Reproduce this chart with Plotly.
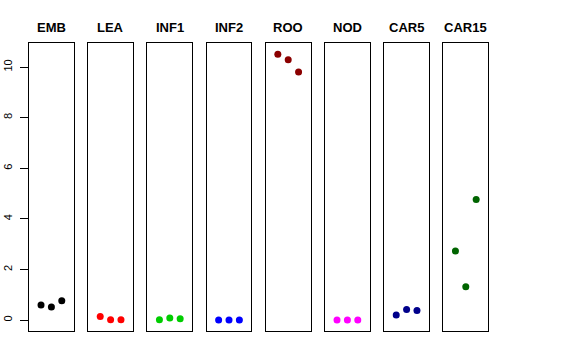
import plotly.graph_objects as go

categories = ["EMB", "LEA", "INF1", "INF2", "ROO", "NOD", "CAR5", "CAR15"]
colors = ["#000000", "#FF0000", "#00CD00", "#0000FF", "#8B0000", "#FF00FF", "#00008B", "#006400"]
reps = [1, 2, 3]
values = {
    "EMB": [0.60, 0.52, 0.77],
    "LEA": [0.14, 0.01, 0.01],
    "INF1": [0.01, 0.08, 0.05],
    "INF2": [0.0, 0.0, 0.0],
    "ROO": [10.51, 10.29, 9.80],
    "NOD": [0.0, 0.0, 0.0],
    "CAR5": [0.20, 0.42, 0.38],
    "CAR15": [2.73, 1.32, 4.77],
}
y_ticks = [0, 2, 4, 6, 8, 10]

W, H = 576, 360
left0, pw, stride = 29.0, 44.8, 59.2
top_px, bot_px = 43.0, 331.0

fig = go.Figure()
layout = dict(
    width=W, height=H, margin=dict(l=0, r=0, t=0, b=0, autoexpand=False),
    plot_bgcolor="white", paper_bgcolor="white", showlegend=False,
    font=dict(family="Liberation Sans, Arial, sans-serif", color="black"),
)
annotations = []
for i, cat in enumerate(categories):
    n = "" if i == 0 else str(i + 1)
    x0 = (left0 + i * stride) / W
    x1 = (left0 + i * stride + pw) / W
    fig.add_trace(go.Scatter(
        x=reps, y=values[cat], mode="markers",
        marker=dict(color=colors[i], size=7),
        xaxis="x" + n, yaxis="y" + n, hoverinfo="skip",
    ))
    layout["xaxis" + n] = dict(
        domain=[x0, x1], range=[-0.16, 4.16], showticklabels=False, ticks="",
        showgrid=False, zeroline=False, showline=True, mirror=True, automargin=False,
        linecolor="black", linewidth=1, anchor="y" + n, fixedrange=True,
    )
    ya = dict(
        domain=[1 - bot_px / H, 1 - top_px / H], range=[-0.43, 10.95],
        showgrid=False, zeroline=False, showline=True, mirror=True, automargin=False,
        linecolor="black", linewidth=1, anchor="x" + n, fixedrange=True,
    )
    if i == 0:
        ya.update(tickvals=y_ticks, ticktext=[str(v) for v in y_ticks],
                  ticks="outside", ticklen=8, tickcolor="black", tickwidth=1,
                  tickangle=-90, ticklabelstandoff=4,
                  tickfont=dict(size=11, color="black"))
    else:
        ya.update(showticklabels=False, ticks="")
    layout["yaxis" + n] = ya
    annotations.append(dict(
        text="<b>" + cat + "</b>", x=(x0 + x1) / 2, y=1 - 28 / H,
        xref="paper", yref="paper", showarrow=False,
        font=dict(size=13, color="black"), xanchor="center", yanchor="middle",
    ))
layout["annotations"] = annotations
fig.update_layout(**layout)
fig.write_html("out.html", config={"displayModeBar": False, "staticPlot": True},
               post_script="document.body.style.margin='0';document.body.style.overflow='hidden';")
